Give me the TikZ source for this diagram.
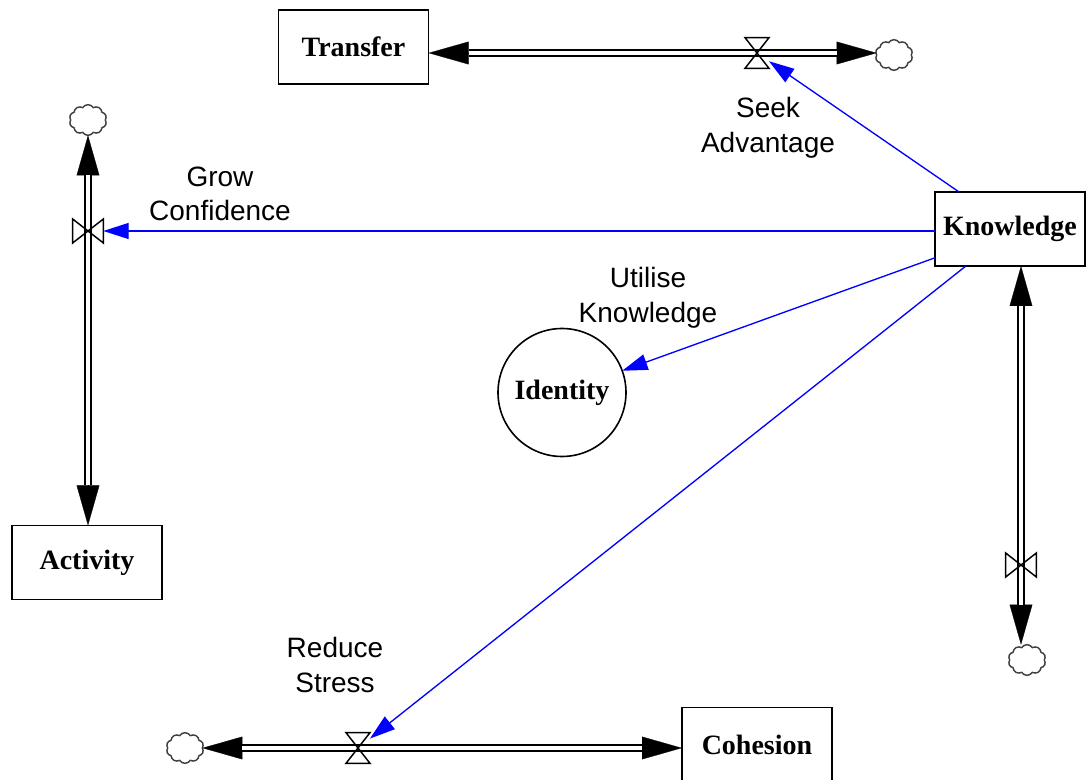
\documentclass[tikz,border=0pt]{standalone}
\usepackage{fontspec}
\setmainfont{Liberation Serif}
\newfontfamily\labelfont{Liberation Sans}
\usetikzlibrary{arrows.meta,shapes.symbols}
\begin{document}
\begin{tikzpicture}[x=0.75pt,y=-0.75pt,
  stock/.style={draw, line width=1.3pt, minimum width=112.5pt, minimum height=55.5pt,
    inner sep=0pt, outer sep=0pt, font=\bfseries\fontsize{21}{26}\selectfont},
  auxvar/.style={circle, draw, line width=1.2pt, minimum size=96pt, inner sep=0pt,
    outer sep=0pt, font=\bfseries\fontsize{21}{26}\selectfont},
  flowlabel/.style={align=center, inner sep=0pt, font=\labelfont\fontsize{21}{26}\selectfont},
  valveh/.style={minimum width=18pt, minimum height=23pt, inner sep=0pt, outer sep=0pt},
  valvev/.style={minimum width=23pt, minimum height=18pt, inner sep=0pt, outer sep=0pt},
  valveline/.style={line width=1.1pt, line join=miter},
  sink/.style={cloud, cloud puffs=10, cloud puff arc=115, aspect=1.25, draw=black!75,
    line width=1.1pt, minimum width=28pt, minimum height=23pt, inner sep=0pt, outer sep=0pt},
  pipe/.style={double=white, double distance=3.2pt, line width=1.4pt,
    shorten <=30pt, shorten >=30pt},
  pipeheads/.style={line width=0.2pt,
    {Triangle[length=30pt,width=17pt]}-{Triangle[length=30pt,width=17pt]}},
  info/.style={blue, line width=1pt, -{Triangle[length=19pt,width=12pt]}}
]
\useasboundingbox (0,0) rectangle (1086,780);
\clip (0,0) rectangle (1086,780);

% stocks and auxiliary
\node[stock] (Transfer) at (353.5,47) {Transfer};
\node[stock] (Activity) at (87,562.5) {Activity};
\node[stock] (Knowledge) at (1010,229) {Knowledge};
\node[stock] (Cohesion) at (757,744.5) {Cohesion};
\node[auxvar] (Identity) at (562,392.5) {Identity};

% valves
\node[valveh] (v1) at (757,53) {};
\node[valvev] (v2) at (88,231) {};
\node[valvev] (v4) at (1021,565) {};
\node[valveh] (v5) at (358,748) {};

% clouds (sources / sinks)
\node[sink] (c1) at (894,55) {};
\node[sink] (c2) at (88,120) {};
\node[sink] (c4) at (1027,660) {};
\node[sink] (c5) at (185,748) {};

% flow labels
\node[flowlabel] (lseek) at (768,128) {Seek\\Advantage};
\node[flowlabel] (lgrow) at (220,194) {Grow\\Confidence};
\node[flowlabel] (lutil) at (648,298) {Utilise\\Knowledge};
\node[flowlabel] (lred) at (335,665) {Reduce\\Stress};

% flow pipes: arrow heads first, then the double pipe over them
\draw[pipeheads] (v1 -| Transfer.east) -- (v1 -| c1.west);
\draw[pipe] (v1 -| Transfer.east) -- (v1 -| c1.west);
\draw[pipeheads] (v2 |- c2.south) -- (v2 |- Activity.north);
\draw[pipe] (v2 |- c2.south) -- (v2 |- Activity.north);
\draw[pipeheads] (v4 |- Knowledge.south) -- (v4 |- c4.north);
\draw[pipe] (v4 |- Knowledge.south) -- (v4 |- c4.north);
\draw[pipeheads] (v5 -| c5.east) -- (v5 -| Cohesion.west);
\draw[pipe] (v5 -| c5.east) -- (v5 -| Cohesion.west);

% valve symbols
\draw[valveline] (v1.north west) -- (v1.north east) -- (v1.south west) -- (v1.south east) -- cycle;
\draw[valveline] (v5.north west) -- (v5.north east) -- (v5.south west) -- (v5.south east) -- cycle;
\draw[valveline] (v2.north west) -- (v2.south west) -- (v2.north east) -- (v2.south east) -- cycle;
\draw[valveline] (v4.north west) -- (v4.south west) -- (v4.north east) -- (v4.south east) -- cycle;

% information links
\draw[info] (Knowledge.144) -- (v1);
\draw[info] (Knowledge.west |- v2) -- (v2);
\draw[info] (Knowledge.201) -- (Identity);
\draw[info] (Knowledge.220) -- (v5);
\end{tikzpicture}
\end{document}
